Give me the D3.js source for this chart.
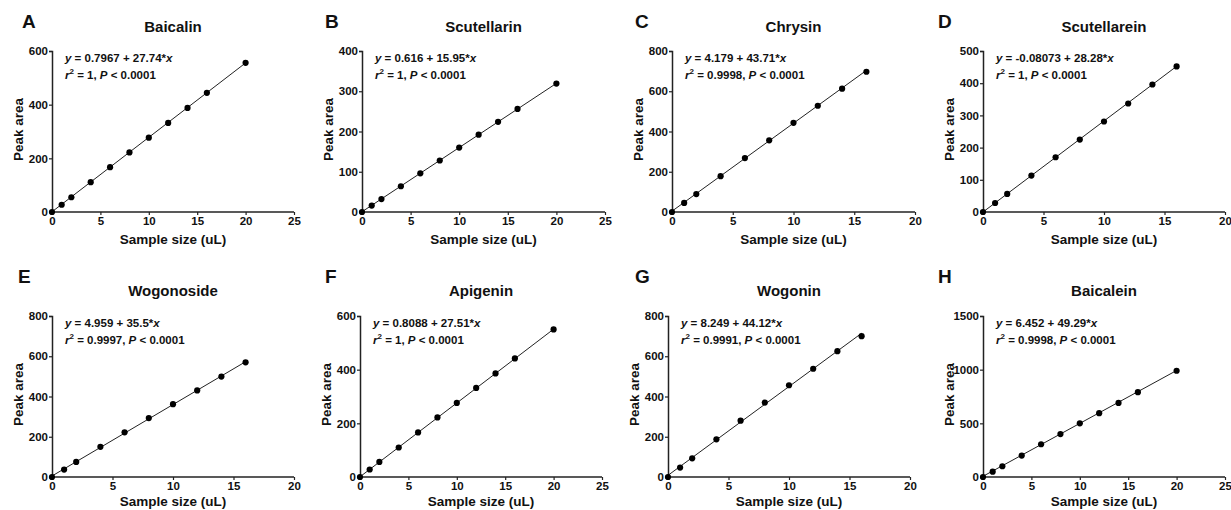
<!DOCTYPE html>
<html>
<head>
<meta charset="utf-8">
<script src="https://cdn.jsdelivr.net/npm/d3@7"></script>
<style>
  html, body { margin: 0; padding: 0; background: #fff; }
  svg { display: block; }
  text { font-family: "Liberation Sans", Arial, Helvetica, sans-serif; font-weight: bold; fill: #111; }
</style>
</head>
<body>
<svg id="chart" width="1231" height="510"></svg>
<script>
// ---------------- data ----------------
const letters = ["A", "B", "C", "D", "E", "F", "G", "H"];
const titles = ["Baicalin", "Scutellarin", "Chrysin", "Scutellarein", "Wogonoside", "Apigenin", "Wogonin", "Baicalein"];
const xMax = [25, 25, 20, 20, 20, 25, 20, 25];
const yMax = [600, 400, 800, 500, 800, 600, 800, 1500];
const yStep = [200, 100, 200, 100, 200, 200, 200, 500];
const xTickStep = 5;

const xLong = [0, 1, 2, 4, 6, 8, 10, 12, 14, 16, 20];
const xShort = [0, 1, 2, 4, 6, 8, 10, 12, 14, 16];

const baicalin = [0, 27, 55, 111, 167, 222, 277, 332, 388, 444, 556];
const scutellarin = [0, 16, 32, 64, 96, 128, 160, 192, 224, 256, 319];
const chrysin = [0, 45, 89, 178, 268, 356, 443, 528, 613, 697];
const scutellarein = [0, 28, 56, 113, 170, 225, 281, 337, 396, 452];
const wogonoside = [0, 37, 75, 150, 222, 293, 362, 430, 499, 570];
const apigenin = [0, 28, 56, 110, 166, 222, 276, 332, 386, 442, 550];
const wogonin = [0, 47, 93, 187, 280, 370, 456, 538, 625, 700];
const baicalein = [0, 50, 100, 200, 305, 400, 500, 595, 690, 790, 990];

const seriesX = [xLong, xLong, xShort, xShort, xShort, xLong, xShort, xLong];
const seriesY = [baicalin, scutellarin, chrysin, scutellarein, wogonoside, apigenin, wogonin, baicalein];

const intercepts = [0.7967, 0.616, 4.179, -0.08073, 4.959, 0.8088, 8.249, 6.452];
const slopes = [27.74, 15.95, 43.71, 28.28, 35.5, 27.51, 44.12, 49.29];
const interceptLabels = ["0.7967", "0.616", "4.179", "-0.08073", "4.959", "0.8088", "8.249", "6.452"];
const slopeLabels = ["27.74", "15.95", "43.71", "28.28", "35.5", "27.51", "44.12", "49.29"];
const r2Labels = ["1", "1", "0.9998", "1", "0.9997", "1", "0.9991", "0.9998"];
const pLabel = "0.0001";
const xAxisTitle = "Sample size (uL)";
const yAxisTitle = "Peak area";

// ---------------- layout ----------------
const layout = [
  { left: 52, width: 242, top: 51, bottom: 212, letterX: 22, letterY: 28, titleY: 32, xtY: 244 },
  { left: 362, width: 243, top: 51, bottom: 212, letterX: 325, letterY: 28, titleY: 32, xtY: 244 },
  { left: 672, width: 243, top: 51, bottom: 212, letterX: 635, letterY: 28, titleY: 32, xtY: 244 },
  { left: 983, width: 242, top: 51, bottom: 212, letterX: 938, letterY: 28, titleY: 32, xtY: 244 },
  { left: 52, width: 242, top: 316, bottom: 477, letterX: 18, letterY: 283, titleY: 296, xtY: 506 },
  { left: 360, width: 242, top: 316, bottom: 477, letterX: 325, letterY: 283, titleY: 296, xtY: 506 },
  { left: 668, width: 242, top: 316, bottom: 477, letterX: 635, letterY: 283, titleY: 296, xtY: 506 },
  { left: 983, width: 242, top: 316, bottom: 477, letterX: 938, letterY: 283, titleY: 296, xtY: 506 }
];

const svg = d3.select("#chart");

letters.forEach((letter, i) => {
  const L = layout[i];
  const x = d3.scaleLinear().domain([0, xMax[i]]).range([L.left, L.left + L.width]);
  const y = d3.scaleLinear().domain([0, yMax[i]]).range([L.bottom, L.top]);
  const g = svg.append("g");

  // panel letter
  g.append("text").attr("x", L.letterX).attr("y", L.letterY)
    .style("font-size", "19px").text(letter);

  // title
  g.append("text").attr("x", L.left + L.width / 2).attr("y", L.titleY)
    .attr("text-anchor", "middle").style("font-size", "15px").text(titles[i]);

  // axes
  const xAxis = d3.axisBottom(x).tickValues(d3.range(0, xMax[i] + 0.001, xTickStep))
    .tickSize(3).tickPadding(2).tickFormat(d3.format("d"));
  const yAxis = d3.axisLeft(y).tickValues(d3.range(0, yMax[i] + 0.001, yStep[i]))
    .tickSize(3).tickPadding(1).tickFormat(d3.format("d"));

  const gx = g.append("g").attr("transform", `translate(0,${L.bottom})`).call(xAxis);
  const gy = g.append("g").attr("transform", `translate(${L.left},0)`).call(yAxis);
  [gx, gy].forEach(a => {
    a.select(".domain").attr("stroke", "#222").attr("stroke-width", 1.5);
    a.selectAll(".tick line").attr("stroke", "#222").attr("stroke-width", 1.2);
    a.selectAll(".tick text").style("font-size", "11.5px").style("font-family", "Liberation Sans, Arial, sans-serif")
      .style("font-weight", "bold").attr("fill", "#111");
  });
  gx.selectAll(".domain").attr("d", `M${L.left},0H${L.left + L.width}`);
  gx.selectAll(".tick text").attr("dy", "0.71em");

  // axis titles
  g.append("text").attr("x", L.left + L.width / 2).attr("y", L.xtY)
    .attr("text-anchor", "middle").style("font-size", "13.5px").text(xAxisTitle);
  g.append("text")
    .attr("transform", `translate(${L.left - 29},${(L.top + L.bottom) / 2 - 2}) rotate(-90)`)
    .attr("text-anchor", "middle").style("font-size", "13.5px").text(yAxisTitle);

  // regression line
  const xs = seriesX[i];
  const xEnd = xs[xs.length - 1];
  g.append("line")
    .attr("x1", x(0)).attr("y1", y(intercepts[i] + slopes[i] * 0))
    .attr("x2", x(xEnd)).attr("y2", y(intercepts[i] + slopes[i] * xEnd))
    .attr("stroke", "#222").attr("stroke-width", 1);

  // points
  g.selectAll("circle.pt").data(xs.map((d, k) => [d, seriesY[i][k]])).enter()
    .append("circle").attr("class", "pt")
    .attr("cx", d => x(d[0])).attr("cy", d => y(d[1])).attr("r", 3.1)
    .attr("fill", "#000");

  // equation
  const eq = g.append("text").attr("x", L.left + 13).attr("y", L.top + 11).style("font-size", "11.5px");
  eq.append("tspan").style("font-style", "italic").text("y");
  eq.append("tspan").text(` = ${interceptLabels[i]} + ${slopeLabels[i]}*`);
  eq.append("tspan").style("font-style", "italic").text("x");

  const eq2 = g.append("text").attr("x", L.left + 13).attr("y", L.top + 28).style("font-size", "11.5px");
  eq2.append("tspan").style("font-style", "italic").text("r");
  eq2.append("tspan").attr("dy", -5).style("font-size", "8px").text("2");
  eq2.append("tspan").attr("dy", 5).text(` = ${r2Labels[i]}, `);
  eq2.append("tspan").style("font-style", "italic").text("P");
  eq2.append("tspan").text(` < ${pLabel}`);
});
</script>
</body>
</html>
